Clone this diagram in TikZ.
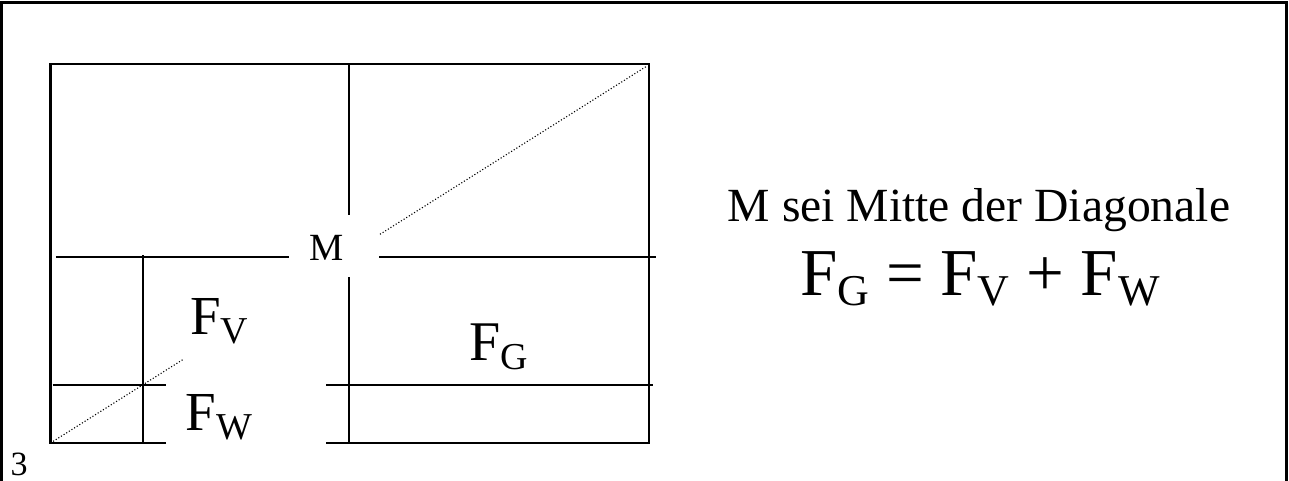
\documentclass[tikz,border=0pt]{standalone}
\usepackage{fontspec}
\setmainfont{Liberation Serif}
\newcommand\lowsub[3]{\raisebox{-#3}{\fontsize{#1}{#1}\selectfont #2}}
\begin{document}
\begin{tikzpicture}[x=1pt,y=-1pt,
  frame/.style={line width=3pt},
  ln/.style={line width=2.3pt},
  thinln/.style={line width=1.1pt},
  diag/.style={line width=1.1pt, dotted},
  txt/.style={inner sep=0pt, anchor=base west},
  ctxt/.style={inner sep=0pt, anchor=base}]
\useasboundingbox (0,0) rectangle (1289,481);
% page frame
\draw[frame] (1.2,481) -- (1.2,2.8) -- (1286,2.8) -- (1286,481);
% corners of the rectangle
\coordinate (BL) at (50.5,443);
\coordinate (TL) at (50.5,64.3);
\coordinate (TR) at (649,64.3);
\coordinate (BR) at (649,443);
% rectangle (bottom edge interrupted)
\draw[ln] (166,443) -- (BL) -- (TL) -- (TR) -- (BR) -- (326,443);
% horizontal line through M
\draw[ln] (55.8,256.7) -- (289.3,256.7);
\draw[ln] (379,256.7) -- (655.7,256.7);
% vertical line through M
\draw[ln] (349,64.3) -- (349,215);
\draw[ln] (349,277) -- (349,443);
% lower horizontal line
\draw[ln] (52.7,385) -- (166,385);
\draw[ln] (326,385) -- (450,385);
\draw[thinln] (450,385) -- (610,385);
\draw[ln] (610,385) -- (652.7,385);
% small vertical line
\draw[ln] (142.7,255) -- (142.7,443);
% diagonal (dotted, interrupted)
\coordinate (D1) at (183.3,359.3);
\coordinate (D2) at (380,234.3);
\draw[diag] (BL) -- (D1);
\draw[diag] (D2) -- (647,66);
% labels
\node[txt] (M) at (309.5,260) {\fontsize{38.5}{38.5}\selectfont M};
\node[txt] (FV) at (190,334) {\fontsize{55}{55}\selectfont F\lowsub{38}{V}{9pt}};
\node[txt] (FW) at (185.5,430) {\fontsize{55}{55}\selectfont F\lowsub{38}{W}{9pt}};
\node[txt] (FG) at (469.5,360) {\fontsize{56}{56}\selectfont F\lowsub{38}{G}{9pt}};
\node[txt] (pg) at (10.5,475) {\fontsize{34}{34}\selectfont 3};
% right text
\node[ctxt] (t1) at (979,221.7) {\fontsize{47.6}{47.6}\selectfont M sei Mitte der Diagonale};
\node[ctxt] (t2) at (980,295) {\fontsize{67}{67}\selectfont F\lowsub{44}{G}{10pt} = F\lowsub{44}{V}{10pt} + F\lowsub{44}{W}{10pt}};
\end{tikzpicture}
\end{document}
